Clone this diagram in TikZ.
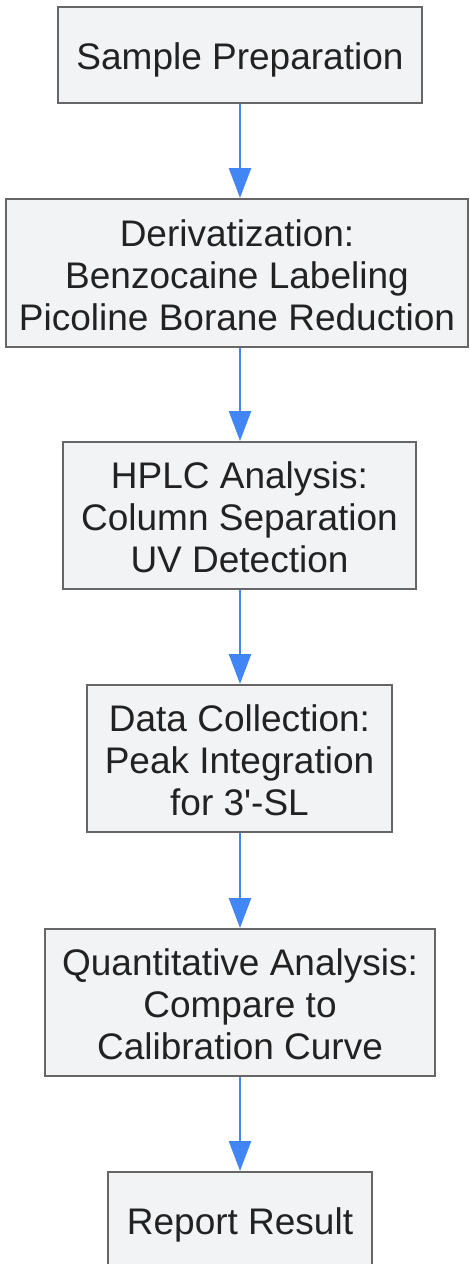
\documentclass[tikz,border=0pt]{standalone}
\usepackage{fontspec}
\setmainfont{Liberation Sans}
\usetikzlibrary{arrows.meta}
\definecolor{boxfill}{HTML}{F2F3F5}
\definecolor{boxline}{HTML}{666666}
\definecolor{flowblue}{HTML}{4285F4}
\definecolor{txt}{HTML}{222222}
\begin{document}
\begin{tikzpicture}[x=1pt,y=-1pt,
  stepbox/.style={draw=boxline, fill=boxfill, line width=2pt, inner sep=0pt},
  steptext/.style={text=txt, align=center, inner sep=0pt, yshift=-2pt,
    font=\fontsize{37}{42}\selectfont},
  flow/.style={draw=flowblue, line width=2.5pt, -{Triangle[length=30pt,width=22pt]}}]
\useasboundingbox (0,0) rectangle (470,1264);
\begin{scope}
\clip (0,0) rectangle (470,1264);
\node [stepbox, minimum width=364pt, minimum height=96pt,
  label={[steptext, yshift=-3pt]center:Sample Preparation}] (prep) at (240,55) {};
\node [stepbox, minimum width=462pt, minimum height=148pt,
  label={[steptext]center:{Derivatization:\\Benzocaine Labeling\\Picoline Borane Reduction}}] (deriv) at (237,273) {};
\node [stepbox, minimum width=353pt, minimum height=147pt,
  label={[steptext]center:{HPLC Analysis:\\Column Separation\\UV Detection}}] (hplc) at (239.5,515.5) {};
\node [stepbox, minimum width=305pt, minimum height=147pt,
  label={[steptext]center:{Data Collection:\\Peak Integration\\for 3\textquotesingle-SL}}] (data) at (239.5,758.5) {};
\node [stepbox, minimum width=390pt, minimum height=147pt,
  label={[steptext]center:{Quantitative Analysis:\\Compare to\\Calibration Curve}}] (quant) at (240,1002.5) {};
\node [stepbox, minimum width=264pt, minimum height=96pt,
  label={[steptext, yshift=-3pt]center:Report Result}] (report) at (240,1220) {};
\draw [flow] (prep.south) -- (prep.south |- deriv.north);
\draw [flow] (prep.south |- deriv.south) -- (prep.south |- hplc.north);
\draw [flow] (prep.south |- hplc.south) -- (prep.south |- data.north);
\draw [flow] (prep.south |- data.south) -- (prep.south |- quant.north);
\draw [flow] (quant.south) -- (report.north);
\end{scope}
\end{tikzpicture}
\end{document}
